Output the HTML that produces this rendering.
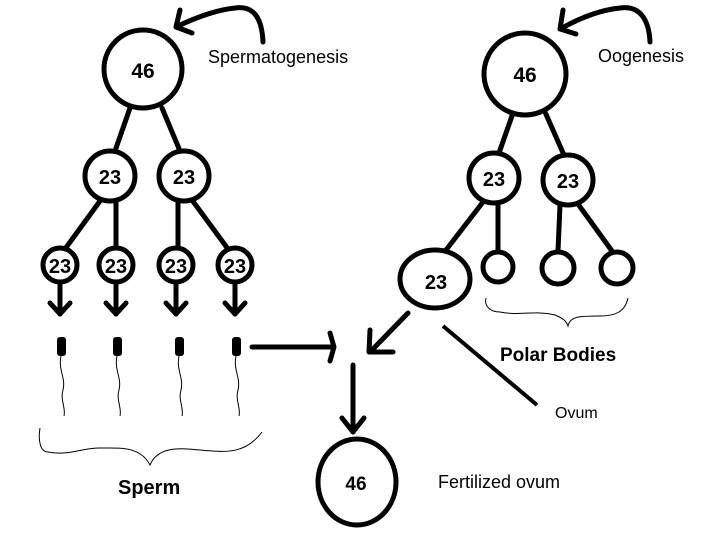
<!DOCTYPE html>
<html><head><meta charset="utf-8"><style>
html,body{margin:0;padding:0;background:#fff;width:720px;height:540px;overflow:hidden}
svg text{font-family:"Liberation Sans",Arial,sans-serif;fill:#000}
</style></head><body>
<svg width="720" height="540" viewBox="0 0 720 540" xmlns="http://www.w3.org/2000/svg">
<g fill="none" stroke="#000" stroke-width="5" stroke-linecap="round" stroke-linejoin="round">
<!-- curved arrows -->
<path d="M263 42 C262 20 255 5 235 8 C215 10 195 18 178 26"/>
<path d="M180 10 L176 27 L192 33"/>
<path d="M650 42 C649 20 640 5 620 8 C600 10 580 18 562 28"/>
<path d="M563 10 L560 29 L576 34"/>
<!-- left tree -->
<circle cx="143" cy="69" r="39"/>
<circle cx="110" cy="176" r="25"/>
<circle cx="184" cy="176" r="25"/>
<line x1="130" y1="108" x2="115" y2="151"/>
<line x1="162" y1="108" x2="180" y2="151"/>
<circle cx="60" cy="265" r="17"/>
<circle cx="116" cy="265" r="17"/>
<circle cx="176" cy="265" r="17"/>
<circle cx="235" cy="265" r="17"/>
<line x1="100" y1="201" x2="65" y2="249"/>
<line x1="116" y1="201" x2="116" y2="248"/>
<line x1="178" y1="201" x2="178" y2="248"/>
<line x1="192" y1="200" x2="228" y2="249"/>
<g>
<line x1="60" y1="282" x2="60" y2="314"/><path d="M50 303 L60 314 L70 303"/>
<line x1="116" y1="282" x2="116" y2="314"/><path d="M106 303 L116 314 L126 303"/>
<line x1="176" y1="282" x2="176" y2="314"/><path d="M166 303 L176 314 L186 303"/>
<line x1="235" y1="282" x2="235" y2="314"/><path d="M225 303 L235 314 L245 303"/>
</g>
<!-- right tree -->
<circle cx="525" cy="74" r="41"/>
<circle cx="494" cy="178" r="25"/>
<circle cx="568" cy="180" r="25"/>
<line x1="513" y1="113" x2="499" y2="153"/>
<line x1="545" y1="112" x2="564" y2="155"/>
<ellipse cx="435" cy="279" rx="35" ry="29"/>
<circle cx="498" cy="267" r="15"/>
<circle cx="558" cy="268" r="16"/>
<circle cx="617" cy="268" r="16"/>
<line x1="483" y1="202" x2="446" y2="250"/>
<line x1="498" y1="203" x2="498" y2="251"/>
<line x1="560" y1="205" x2="558" y2="251"/>
<line x1="578" y1="204" x2="612" y2="251"/>
<!-- center arrows -->
<line x1="252" y1="347" x2="332" y2="347"/><path d="M330 333 L334 347 L330 361"/>
<line x1="408" y1="313" x2="372" y2="350"/><path d="M370 330 L369 352 L393 352"/>
<line x1="353" y1="365" x2="353" y2="432"/><path d="M342 418 L353 432 L364 418"/>
<ellipse cx="357" cy="482" rx="39" ry="43"/>
</g>
<line x1="443" y1="326" x2="537" y2="405" stroke="#000" stroke-width="4"/>
<!-- sperm heads -->
<g fill="#000">
<rect x="57" y="337" width="9" height="19" rx="3"/>
<rect x="113" y="337" width="9" height="19" rx="3"/>
<rect x="175" y="337" width="9" height="19" rx="3"/>
<rect x="232" y="337" width="9" height="19" rx="3"/>
</g>
<g fill="none" stroke="#000" stroke-width="1">
<path d="M61 356 C58 370 66 378 63 390 C60 400 66 408 64 416"/>
<path d="M117 356 C114 370 122 378 119 390 C116 400 122 408 120 416"/>
<path d="M179 356 C176 370 184 378 181 390 C178 400 184 408 182 416"/>
<path d="M236 356 C233 370 241 378 238 390 C235 400 241 408 239 416"/>
<path d="M40 428 C38 440 40 452 48 452 C70 456 80 448 100 448 C120 448 140 446 150 465 C158 446 180 448 200 450 C225 452 245 455 262 432"/>
<path d="M486 298 C484 306 490 312 500 312 C520 316 535 310 555 315 C562 318 566 320 568 326 C570 316 580 316 600 316 C615 316 625 312 628 298"/>
</g>
<!-- text -->
<g font-weight="bold" text-anchor="middle">
<text x="143" y="78" font-size="21">46</text>
<text x="110" y="184" font-size="20">23</text>
<text x="184" y="184" font-size="20">23</text>
<text x="60" y="273" font-size="20">23</text>
<text x="116" y="273" font-size="20">23</text>
<text x="176" y="273" font-size="20">23</text>
<text x="235" y="273" font-size="20">23</text>
<text x="525" y="82" font-size="21">46</text>
<text x="494" y="186" font-size="20">23</text>
<text x="568" y="188" font-size="20">23</text>
<text x="436" y="289" font-size="20">23</text>
<text x="356" y="490" font-size="19">46</text>
</g>
<text x="208" y="63" font-size="18">Spermatogenesis</text>
<text x="598" y="62" font-size="18">Oogenesis</text>
<text x="500" y="361" font-size="19" font-weight="bold">Polar Bodies</text>
<text x="555" y="418" font-size="16">Ovum</text>
<text x="118" y="494" font-size="20" font-weight="bold">Sperm</text>
<text x="438" y="488" font-size="18">Fertilized ovum</text>
</svg>
</body></html>
